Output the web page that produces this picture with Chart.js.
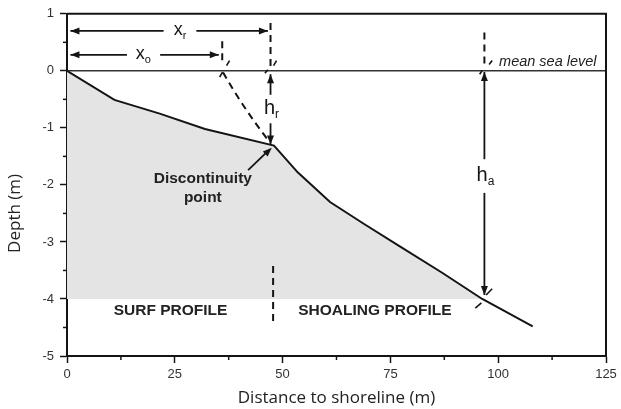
<!DOCTYPE html>
<html>
<head>
<meta charset="utf-8">
<script src="https://cdn.jsdelivr.net/npm/chart.js@4.4.1/dist/chart.umd.min.js"></script>
<style>
  html, body { margin: 0; padding: 0; background: #fff; }
</style>
</head>
<body>
<canvas id="profile" width="621" height="409"></canvas>
<script>
// Beach profile: cross-shore distance (m) against depth (m)
const distance = [0, 11, 21.5, 32, 48, 53.5, 61, 69, 77, 87, 96.3, 108];
const depth    = [0, -0.51, -0.75, -1.02, -1.31, -1.78, -2.3, -2.69, -3.07, -3.54, -4.0, -4.48];

// mean sea level reference line
const seaLevelX = [0, 125];
const seaLevelY = [0, 0];

// the shaded wedge stops at this depth
const closureDepth = -4;

const xRange = [0, 125];
const yRange = [-5, 1];
const xStep = 25;
const yStep = 1;

const INK = '#141414';
const TICK_FONT = "'Liberation Sans', Arial, sans-serif";
const TITLE_FONT = "'Open Sans', sans-serif";

// profile points above the closure depth, ending where the profile crosses it
function clippedProfile(level) {
  const pts = [];
  for (let i = 0; i < distance.length; i++) {
    if (depth[i] >= level) {
      pts.push({ x: distance[i], y: depth[i] });
      continue;
    }
    const t = (level - depth[i - 1]) / (depth[i] - depth[i - 1]);
    pts.push({ x: distance[i - 1] + t * (distance[i] - distance[i - 1]), y: level });
    break;
  }
  return pts;
}

const profilePoints = distance.map((x, i) => ({ x, y: depth[i] }));
const seaLevelPoints = seaLevelX.map((x, i) => ({ x, y: seaLevelY[i] }));

function arrowHead(ctx, x, y, angle) {
  const len = 9, half = 3.5;
  ctx.save();
  ctx.translate(x, y);
  ctx.rotate(angle);
  ctx.beginPath();
  ctx.moveTo(0, 0);
  ctx.lineTo(-len, -half);
  ctx.lineTo(-len, half);
  ctx.closePath();
  ctx.fill();
  ctx.restore();
}

function line(ctx, x1, y1, x2, y2) {
  ctx.beginPath();
  ctx.moveTo(x1, y1);
  ctx.lineTo(x2, y2);
  ctx.stroke();
}

function subLabel(ctx, x, y, main, sub, size) {
  const mainFont = size + "px 'Liberation Sans', Arial, sans-serif";
  const subFont = Math.round(size * 0.62) + "px 'Liberation Sans', Arial, sans-serif";
  ctx.font = mainFont;
  const w1 = ctx.measureText(main).width;
  ctx.font = subFont;
  const w2 = ctx.measureText(sub).width;
  const left = x - (w1 + w2) / 2;
  ctx.textAlign = 'left';
  ctx.textBaseline = 'middle';
  ctx.font = mainFont;
  ctx.fillText(main, left, y);
  ctx.font = subFont;
  ctx.fillText(sub, left + w1, y + size * 0.32);
}

// frame, minor ticks and the sketch annotations
const sketchLayer = {
  id: 'sketchLayer',
  beforeDraw(chart) {
    const ctx = chart.ctx;
    ctx.save();
    ctx.fillStyle = '#fff';
    ctx.fillRect(0, 0, chart.width, chart.height);
    ctx.restore();
  },
  afterDatasetsDraw(chart) {
    const { ctx, chartArea: a } = chart;
    const xs = chart.scales.x, ys = chart.scales.y;
    const X = v => xs.getPixelForValue(v);
    const Y = v => ys.getPixelForValue(v);

    ctx.save();
    ctx.strokeStyle = INK;
    ctx.fillStyle = INK;
    ctx.lineCap = 'butt';

    // top and right sides of the frame
    ctx.lineWidth = 2;
    ctx.beginPath();
    ctx.moveTo(a.left, a.top);
    ctx.lineTo(a.right, a.top);
    ctx.lineTo(a.right, a.bottom);
    ctx.stroke();

    // minor ticks
    ctx.lineWidth = 1.5;
    for (let v = xRange[0] + xStep / 2; v < xRange[1]; v += xStep) {
      line(ctx, X(v), a.bottom, X(v), a.bottom + 4);
    }
    for (let v = yRange[0] + yStep / 2; v < yRange[1]; v += yStep) {
      line(ctx, a.left - 4, Y(v), a.left, Y(v));
    }

    // depth axis title, set a little below the middle of the axis
    ctx.save();
    ctx.fillStyle = '#222';
    ctx.font = "17px 'Open Sans', sans-serif";
    ctx.textAlign = 'center';
    ctx.textBaseline = 'middle';
    ctx.translate(15, Y(-2.5));
    ctx.rotate(-Math.PI / 2);
    ctx.fillText('Depth (m)', 0, 0);
    ctx.restore();

    // horizontal dimension arrows x_r and x_o
    ctx.lineWidth = 1.8;
    const dims = [
      { y: 0.70, from: 0.8, to: 46.6, gap: [22.4, 30.0], text: ['x', 'r'], at: 26.2 },
      { y: 0.28, from: 0.8, to: 35.2, gap: [13.9, 21.6], text: ['x', 'o'], at: 17.7 }
    ];
    dims.forEach(d => {
      line(ctx, X(d.from), Y(d.y), X(d.gap[0]), Y(d.y));
      line(ctx, X(d.gap[1]), Y(d.y), X(d.to), Y(d.y));
      arrowHead(ctx, X(d.from), Y(d.y), Math.PI);
      arrowHead(ctx, X(d.to), Y(d.y), 0);
      subLabel(ctx, X(d.at), Y(d.y) - 1, d.text[0], d.text[1], 18);
    });

    // vertical dimension arrows h_r and h_a
    const vdims = [
      { x: 47.2, top: -0.06, bottom: -1.29, gap: [-0.42, -0.92], text: ['h', 'r'], at: -0.66 },
      { x: 96.8, top: -0.02, bottom: -3.93, gap: [-1.55, -2.14], text: ['h', 'a'], at: -1.83 }
    ];
    vdims.forEach(d => {
      line(ctx, X(d.x), Y(d.top), X(d.x), Y(d.gap[0]));
      line(ctx, X(d.x), Y(d.gap[1]), X(d.x), Y(d.bottom));
      arrowHead(ctx, X(d.x), Y(d.top), -Math.PI / 2);
      arrowHead(ctx, X(d.x), Y(d.bottom), Math.PI / 2);
      subLabel(ctx, X(d.x) + 1, Y(d.at), d.text[0], d.text[1], 20);
    });

    // dashed guides
    ctx.lineWidth = 2;
    ctx.setLineDash([7, 5]);
    line(ctx, X(36.0), Y(0.52), X(36.0), Y(0.1));
    line(ctx, X(47.2), Y(0.84), X(47.2), Y(0.0));
    line(ctx, X(96.8), Y(0.67), X(96.8), Y(0.13));
    line(ctx, X(47.8), Y(-3.42), X(47.8), Y(-4.47));
    // breaking point path from x_o down to the discontinuity
    ctx.beginPath();
    ctx.moveTo(X(36.2), Y(-0.03));
    ctx.quadraticCurveTo(X(40.8), Y(-0.64), X(46.8), Y(-1.23));
    ctx.stroke();
    ctx.setLineDash([]);

    // short tick strokes at the dashed guides
    ctx.lineWidth = 1.6;
    [
      [37.0, 0.09, 37.7, 0.18],
      [47.9, 0.09, 48.6, 0.18],
      [45.9, -0.04, 46.6, 0.02],
      [35.4, -0.11, 36.1, -0.02],
      [97.9, 0.11, 98.6, 0.18],
      [95.7, -0.06, 96.3, 0.005],
      [97.2, -3.93, 98.6, -3.82],
      [94.7, -4.16, 96.1, -4.07]
    ].forEach(s => line(ctx, X(s[0]), Y(s[1]), X(s[2]), Y(s[3])));

    // discontinuity point callout
    ctx.lineWidth = 1.8;
    line(ctx, X(42.0), Y(-1.74), X(46.4), Y(-1.42));
    arrowHead(ctx, X(47.5), Y(-1.35), Math.atan2(Y(-1.35) - Y(-1.74), X(47.5) - X(42.0)));
    ctx.textAlign = 'center';
    ctx.textBaseline = 'middle';
    ctx.font = "bold 15.5px 'Liberation Sans', Arial, sans-serif";
    ctx.fillStyle = '#222';
    ctx.fillText('Discontinuity', X(31.5), Y(-1.9));
    ctx.fillText('point', X(31.5), Y(-2.23));

    // zone labels
    ctx.fillText('SURF PROFILE', X(24.0), Y(-4.2));
    ctx.fillText('SHOALING PROFILE', X(71.4), Y(-4.2));

    // sea level note
    ctx.textAlign = 'left';
    ctx.font = "italic 14.5px 'Liberation Sans', Arial, sans-serif";
    ctx.fillText('mean sea level', X(100.2), Y(0.16));

    ctx.restore();
  }
};

new Chart(document.getElementById('profile'), {
  type: 'scatter',
  data: {
    datasets: [
      {
        label: 'Profile',
        data: profilePoints,
        showLine: true,
        borderColor: INK,
        borderWidth: 2,
        pointRadius: 0,
        tension: 0,
        fill: false,
        order: 1
      },
      {
        label: 'Mean sea level',
        data: seaLevelPoints,
        showLine: true,
        borderColor: '#333',
        borderWidth: 1.5,
        pointRadius: 0,
        fill: false,
        order: 2
      },
      {
        label: 'Wedge',
        data: clippedProfile(closureDepth),
        showLine: true,
        borderWidth: 0,
        borderColor: 'rgba(0,0,0,0)',
        backgroundColor: '#e4e4e4',
        pointRadius: 0,
        fill: { value: closureDepth },
        order: 3
      }
    ]
  },
  options: {
    responsive: false,
    animation: false,
    devicePixelRatio: 1,
    layout: { padding: { top: 13, right: 15, left: 0, bottom: 0 } },
    plugins: {
      legend: { display: false },
      tooltip: { enabled: false }
    },
    scales: {
      x: {
        type: 'linear',
        min: xRange[0],
        max: xRange[1],
        ticks: {
          stepSize: xStep,
          color: '#333',
          padding: 4,
          font: { family: TICK_FONT, size: 13 }
        },
        grid: { drawOnChartArea: false, tickLength: 7, tickColor: INK, tickWidth: 1.5 },
        border: { color: INK, width: 2 },
        title: {
          display: true,
          text: 'Distance to shoreline (m)',
          color: '#222',
          font: { family: TITLE_FONT, size: 17 },
          padding: { top: 0, bottom: 1 }
        },
        afterFit(scale) { scale.height = 53; }
      },
      y: {
        type: 'linear',
        min: yRange[0],
        max: yRange[1],
        ticks: {
          stepSize: yStep,
          color: '#333',
          padding: 6,
          font: { family: TICK_FONT, size: 13 }
        },
        grid: { drawOnChartArea: false, tickLength: 7, tickColor: INK, tickWidth: 1.5 },
        border: { color: INK, width: 2 },
        afterFit(scale) { scale.width = 67; }
      }
    }
  },
  plugins: [sketchLayer]
});
</script>
</body>
</html>
